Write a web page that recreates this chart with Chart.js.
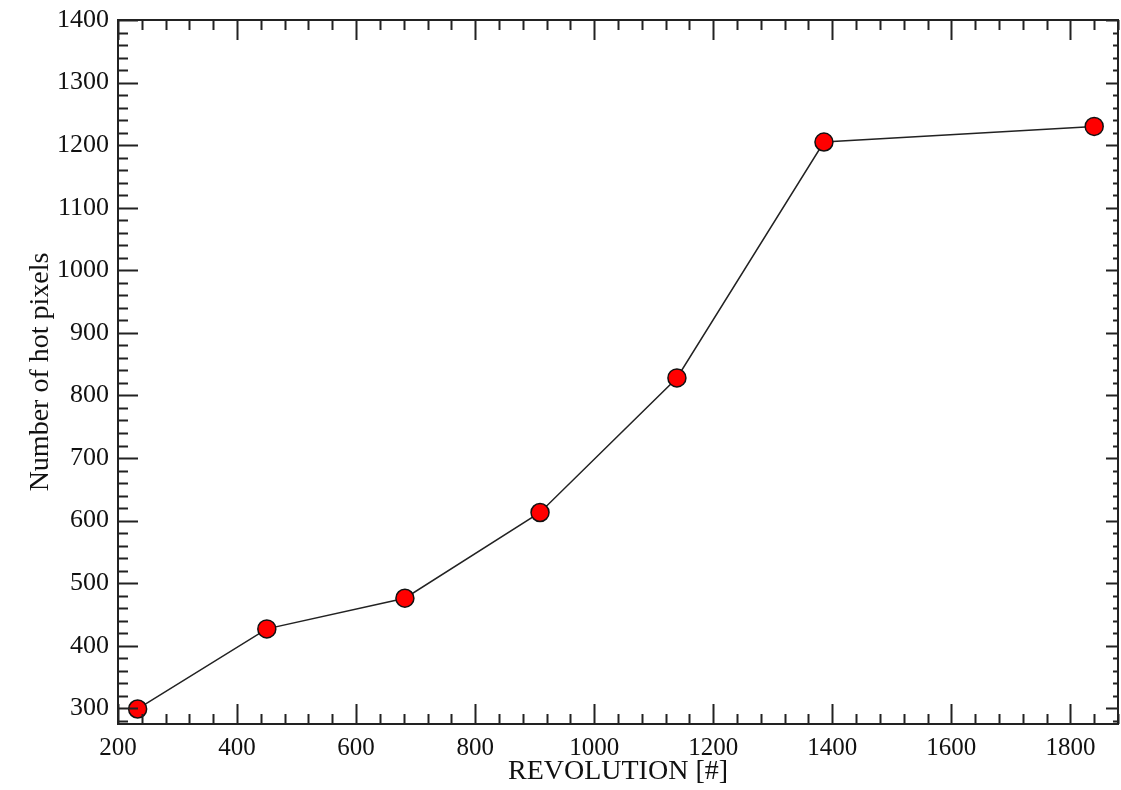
<!DOCTYPE html>
<html>
<head>
<meta charset="utf-8">
<script src="https://cdn.jsdelivr.net/npm/chart.js@4/dist/chart.umd.min.js"></script>
<style>
  html, body { margin: 0; padding: 0; background: #fff; overflow: hidden; }
  canvas { display: block; }
</style>
</head>
<body>
<canvas id="hot-chart" width="1121" height="790"></canvas>
<script>
const revolutions = [233, 450, 682, 909, 1139, 1386, 1840];
const hotPixels = [299, 427, 476, 613, 828, 1205, 1230];

const xTicks = [200, 400, 600, 800, 1000, 1200, 1400, 1600, 1800];
const yTicks = [300, 400, 500, 600, 700, 800, 900, 1000, 1100, 1200, 1300, 1400];
const xMinorStep = 40;
const yMinorStep = 20;

const serif = '"Liberation Serif", "Times New Roman", serif';

// ticks pointing inward on all four sides + the frame
const frameTicks = {
    id: 'frameTicks',
    afterDraw(chart) {
        const ctx = chart.ctx;
        const a = chart.chartArea;
        const xs = chart.scales.x;
        const ys = chart.scales.y;
        ctx.save();
        ctx.strokeStyle = '#222';
        ctx.lineWidth = 2;
        ctx.strokeRect(a.left, a.top, a.right - a.left, a.bottom - a.top);

        ctx.beginPath();
        for (let v = xs.min; v <= xs.max + 0.01; v += xMinorStep) {
            const px = Math.round(xs.getPixelForValue(v)) + 0.5;
            const major = xTicks.includes(v);
            const len = major ? 20 : 10;
            ctx.moveTo(px, a.bottom); ctx.lineTo(px, a.bottom - len);
            ctx.moveTo(px, a.top); ctx.lineTo(px, a.top + len);
        }
        const yStart = Math.ceil(ys.min / yMinorStep) * yMinorStep;
        for (let v = yStart; v <= ys.max + 0.01; v += yMinorStep) {
            const py = Math.round(ys.getPixelForValue(v)) + 0.5;
            const major = yTicks.includes(v);
            ctx.moveTo(a.left, py); ctx.lineTo(a.left + (major ? 20 : 10), py);
            ctx.moveTo(a.right, py); ctx.lineTo(a.right - (major ? 12 : 5), py);
        }
        ctx.stroke();
        ctx.restore();
    }
};

new Chart(document.getElementById('hot-chart'), {
    type: 'line',
    data: {
        datasets: [{
            label: 'hot pixels',
            data: revolutions.map((r, i) => ({x: r, y: hotPixels[i]})),
            borderColor: '#222',
            borderWidth: 1.5,
            tension: 0,
            fill: false,
            pointRadius: 9,
            pointBackgroundColor: '#ff0000',
            pointBorderColor: '#111',
            pointBorderWidth: 1.5
        }]
    },
    options: {
        responsive: false,
        animation: false,
        layout: { autoPadding: false, padding: { top: 20, right: 3, left: 0, bottom: 0 } },
        plugins: {
            legend: { display: false },
            tooltip: { enabled: false }
        },
        scales: {
            x: {
                type: 'linear',
                min: 200,
                max: 1880,
                afterBuildTicks: (s) => { s.ticks = xTicks.map(v => ({value: v})); },
                afterFit: (s) => { s.height = 66; s.paddingLeft = 0; s.paddingRight = 0; },
                grid: { display: false, drawTicks: false },
                border: { display: false },
                ticks: {
                    color: '#111',
                    padding: 9,
                    maxRotation: 0,
                    font: { family: serif, size: 25 },
                    callback: (v) => String(v)
                },
                title: {
                    display: true,
                    text: 'REVOLUTION [#]',
                    color: '#111',
                    padding: { top: 0, bottom: 2 },
                    font: { family: serif, size: 28 }
                }
            },
            y: {
                min: 275,
                max: 1400,
                afterBuildTicks: (s) => { s.ticks = yTicks.map(v => ({value: v})); },
                afterFit: (s) => { s.width = 118; s.paddingTop = 0; s.paddingBottom = 0; },
                grid: { display: false, drawTicks: false },
                border: { display: false },
                ticks: {
                    color: '#111',
                    padding: 9,
                    font: { family: serif, size: 26 },
                    callback: (v) => String(v)
                },
                title: {
                    display: true,
                    text: 'Number of hot pixels',
                    color: '#111',
                    padding: { top: 24, bottom: 0 },
                    font: { family: serif, size: 28 }
                }
            }
        }
    },
    plugins: [frameTicks]
});
</script>
</body>
</html>
